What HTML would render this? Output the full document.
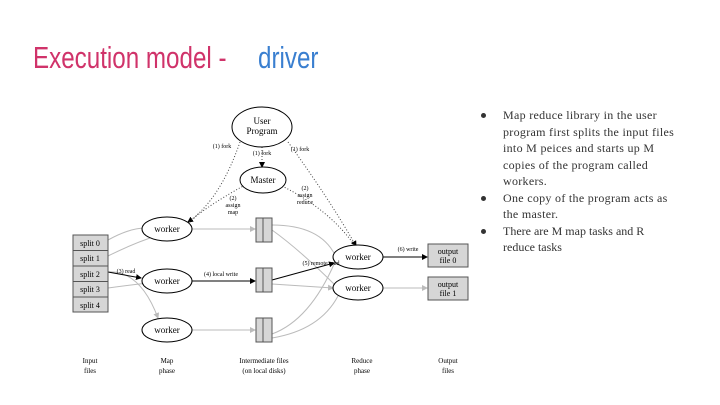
<!DOCTYPE html>
<html><head><style>
body{margin:0;width:720px;height:405px;background:#fff;position:relative;overflow:hidden;font-family:"Liberation Serif",serif}
.t{position:absolute;top:40px;font-family:"Liberation Sans Narrow","Liberation Sans",sans-serif;font-size:31px;transform-origin:left top;transform:scaleX(.78);white-space:nowrap}
ul{position:absolute;left:476px;top:107px;margin:0;padding:0;list-style:none;width:204px;font-size:12px;line-height:16.5px;color:#333;letter-spacing:0.3px}
li{position:relative;padding-left:27px}
li:before{content:"";position:absolute;left:5px;top:6px;width:5px;height:5px;border-radius:50%;background:#333}
</style></head><body>
<div class="t" style="left:33px;color:#d0336a">Execution model -</div>
<div class="t" style="left:258px;color:#3a7fd0">driver</div>
<svg width="720" height="405" style="position:absolute;left:0;top:0" font-family="Liberation Serif,serif" font-size="8">
<defs><marker id="a" markerWidth="6" markerHeight="6" refX="5" refY="3" orient="auto"><path d="M0,0L6,3L0,6z" fill="#000"/></marker>
<marker id="g" markerWidth="6" markerHeight="6" refX="5" refY="3" orient="auto"><path d="M0,0L6,3L0,6z" fill="#bbb"/></marker></defs>
<g fill="none" stroke="#444" stroke-dasharray="1,2">
<path d="M240,142 Q220,200 188,222" marker-end="url(#a)"/>
<path d="M262,147 L262,167" marker-end="url(#a)"/>
<path d="M288,142 Q330,200 356,246" marker-end="url(#a)"/>
<path d="M245,185 Q200,210 188,224"/>
<path d="M282,186 Q330,210 355,246"/>
</g>
<g fill="none" stroke="#bbb">
<path d="M108,240 Q130,228 145,228"/><path d="M108,256 Q130,245 150,238"/>
<path d="M108,288 Q130,285 148,283"/><path d="M108,272 Q140,270 158,318" marker-end="url(#g)"/>
<path d="M192,229 L255,229" marker-end="url(#g)"/><path d="M192,330 L255,330" marker-end="url(#g)"/>
<path d="M272,225 Q320,225 335,255"/><path d="M272,230 Q300,250 338,288" marker-end="url(#g)"/>
<path d="M272,284 L333,288" marker-end="url(#g)"/>
<path d="M272,334 Q310,320 335,262"/><path d="M272,338 Q320,330 338,296"/>
<path d="M383,288 L427,288" marker-end="url(#g)"/>
</g>
<g fill="none" stroke="#000">
<path d="M108,272 L141,278" marker-end="url(#a)"/>
<path d="M192,281 L255,281" marker-end="url(#a)"/>
<path d="M272,280 L334,263" marker-end="url(#a)"/>
<path d="M383,257 L427,257" marker-end="url(#a)"/>
</g>
<g fill="#fff" stroke="#000">
<ellipse cx="262" cy="127" rx="30" ry="20"/><ellipse cx="263" cy="180" rx="23" ry="13"/>
<ellipse cx="167" cy="229" rx="25" ry="12"/><ellipse cx="167" cy="281" rx="25" ry="12"/><ellipse cx="167" cy="330" rx="25" ry="12"/>
<ellipse cx="358" cy="257" rx="25" ry="12"/><ellipse cx="358" cy="288" rx="25" ry="12"/>
</g>
<g fill="#d6d6d6" stroke="#555">
<rect x="73" y="235" width="35" height="77"/>
<rect x="256" y="218" width="16" height="24"/><rect x="256" y="268" width="16" height="24"/><rect x="256" y="318" width="16" height="24"/>
<rect x="428" y="244" width="40" height="23"/><rect x="428" y="277" width="40" height="23"/>
<path d="M73,250.5H108M73,266H108M73,281.5H108M73,297H108M263,218V242M263,268V292M263,318V342"/>
</g>
<g text-anchor="middle" fill="#000">
<text x="262" y="124" font-size="9">User</text><text x="262" y="134" font-size="9">Program</text>
<text x="263" y="183" font-size="9">Master</text>
<text x="167" y="232" font-size="9">worker</text><text x="167" y="284" font-size="9">worker</text><text x="167" y="333" font-size="9">worker</text>
<text x="358" y="260" font-size="9">worker</text><text x="358" y="291" font-size="9">worker</text>
<text x="90" y="246">split 0</text><text x="90" y="261">split 1</text><text x="90" y="277">split 2</text><text x="90" y="292">split 3</text><text x="90" y="308">split 4</text>
<text x="448" y="254">output</text><text x="448" y="263">file 0</text><text x="448" y="287">output</text><text x="448" y="296">file 1</text>
<text x="222" y="148" font-size="6">(1) fork</text><text x="262" y="155" font-size="6">(1) fork</text><text x="300" y="151" font-size="6">(1) fork</text>
<text x="233" y="200" font-size="6">(2)</text><text x="233" y="207" font-size="6">assign</text><text x="233" y="214" font-size="6">map</text>
<text x="305" y="190" font-size="6">(2)</text><text x="305" y="197" font-size="6">assign</text><text x="305" y="204" font-size="6">reduce</text>
<text x="126" y="273" font-size="6">(3) read</text><text x="221" y="276" font-size="6">(4) local write</text>
<text x="321" y="265" font-size="6">(5) remote read</text><text x="408" y="251" font-size="6">(6) write</text>
<text x="90" y="363" font-size="7">Input</text><text x="90" y="373" font-size="7">files</text>
<text x="167" y="363" font-size="7">Map</text><text x="167" y="373" font-size="7">phase</text>
<text x="264" y="363" font-size="7">Intermediate files</text><text x="264" y="373" font-size="7">(on local disks)</text>
<text x="362" y="363" font-size="7">Reduce</text><text x="362" y="373" font-size="7">phase</text>
<text x="448" y="363" font-size="7">Output</text><text x="448" y="373" font-size="7">files</text>
</g>
</svg>
<ul>
<li>Map reduce library in the user program first splits the input files into M peices and starts up M copies of the program called workers.</li>
<li>One copy of the program acts as the master.</li>
<li style="letter-spacing:0">There are M map tasks and R<br>reduce tasks</li>
</ul>
</body></html>
